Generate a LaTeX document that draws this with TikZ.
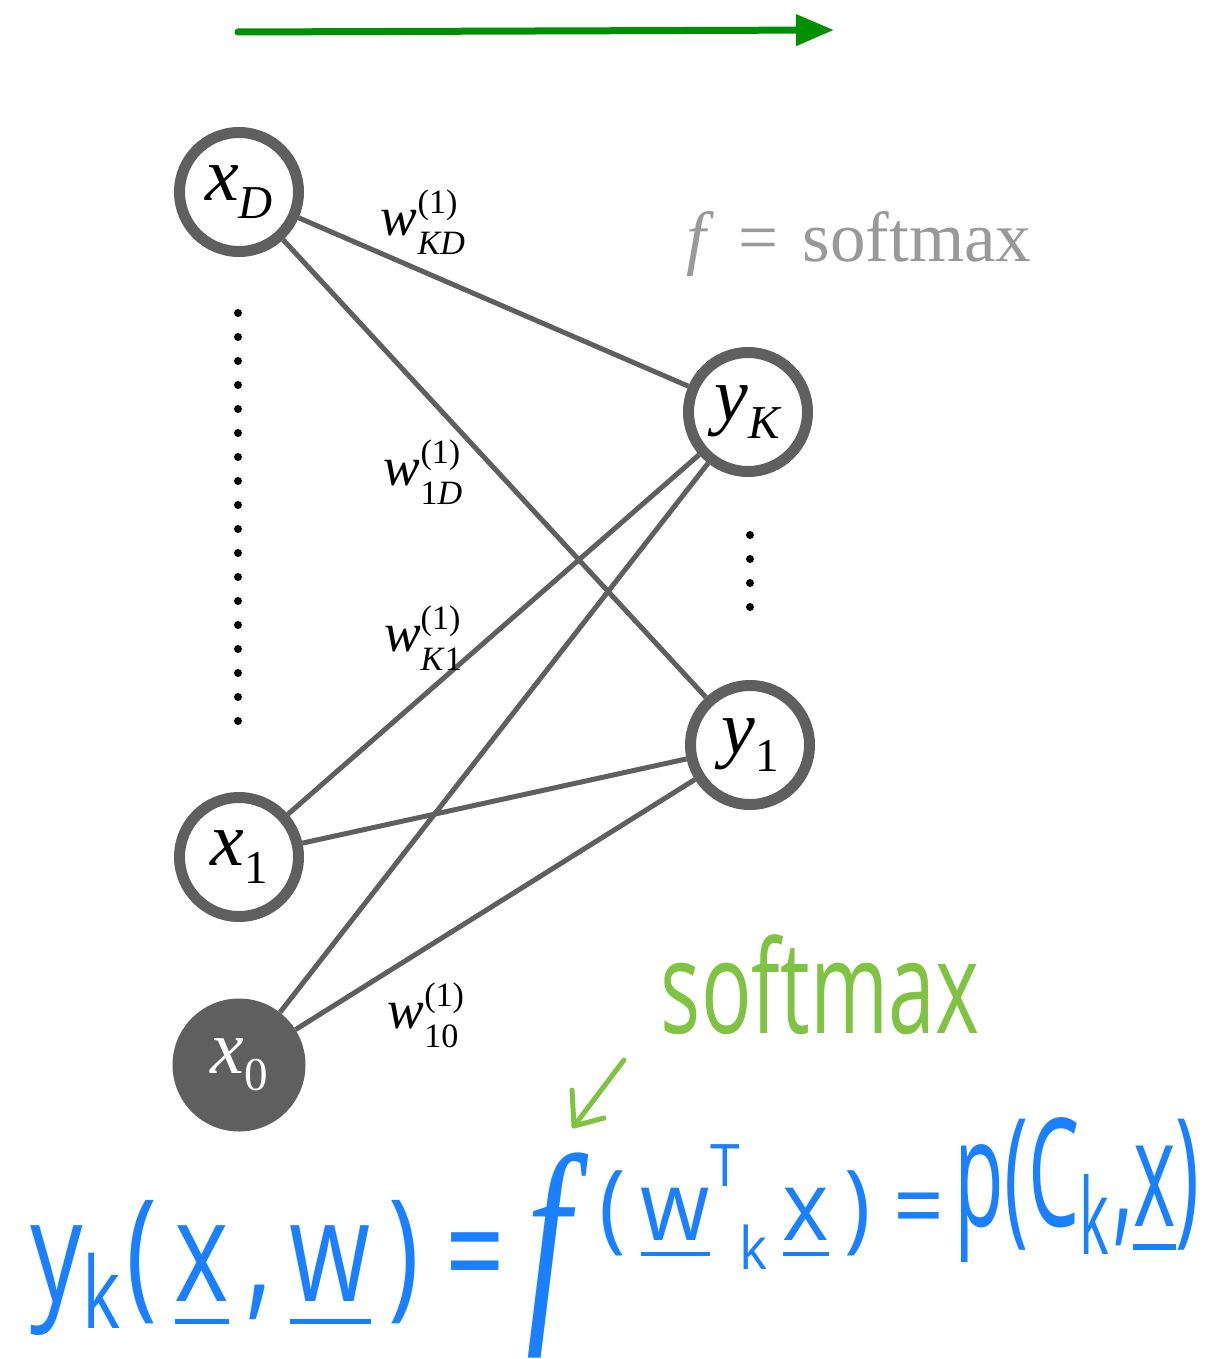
\documentclass[tikz,border=0pt]{standalone}
\usepackage{fontspec}
\setmainfont{Liberation Serif}
\newfontfamily\hwfont{Open Sans}
\newfontfamily\hwital{Liberation Serif Italic}
\usepackage{graphicx}
\usetikzlibrary{arrows.meta}
\definecolor{netgray}{HTML}{5F5F5F}
\definecolor{softgray}{HTML}{999999}
\definecolor{arrowgreen}{HTML}{008F00}
\definecolor{handgreen}{HTML}{80C342}
\definecolor{handblue}{HTML}{1A80FF}
\newcommand{\vsub}[2]{\textit{#1}\raisebox{-0.23em}{\scalebox{0.62}{#2}}}
\newcommand{\wlab}[1]{\textit{w}\rlap{\raisebox{0.4em}{\scalebox{0.62}{(1)}}}\raisebox{-0.35em}{\scalebox{0.62}{#1}}}
\begin{document}
\begin{tikzpicture}[x=1pt,y=-1pt,
  unit/.style={circle, draw=netgray, line width=11pt, fill=white, minimum size=119pt, inner sep=0pt, font=\fontsize{76}{80}\selectfont},
  bias/.style={circle, fill=netgray, minimum size=133pt, inner sep=0pt, text=white, font=\fontsize{76}{80}\selectfont},
  conn/.style={draw=netgray, line width=5pt},
  wlabel/.style={inner sep=0pt, font=\fontsize{55}{60}\selectfont},
  hand/.style={inner sep=0pt, text=handblue},
]
\useasboundingbox (0,0) rectangle (1212,1359);

% flow arrow
\coordinate (fs) at (238,32);
\coordinate (fe) at (834,30);
\draw[arrowgreen, line width=7pt, line cap=round, -{Triangle[length=38pt,width=30pt]}] (fs) -- (fe);

% nodes
\node[unit] (xD) at (239,192) {\vsub{x}{\textit{D}}};
\node[unit] (x1) at (239,857) {\vsub{x}{1}};
\node[bias] (x0) at (239,1065) {\vsub{x}{0}};
\node[unit] (yK) at (748,412) {\vsub{y}{\textit{K}}};
\node[unit] (y1) at (750,745) {\vsub{y}{1}};

% connections
\draw[conn] (xD) -- (yK);
\draw[conn] (xD) -- (y1);
\draw[conn] (x1) -- (yK);
\draw[conn] (x1) -- (y1);
\draw[conn] (x0) -- (yK);
\draw[conn] (x0) -- (y1);

% dots
\foreach \i in {0,...,17} \fill (238,313+24*\i) circle (4);
\foreach \i in {0,...,3} \fill (750,535+24*\i) circle (4);

% weight labels
\node[wlabel] (wKD) at (423,222) {\wlab{\textit{KD}}};
\node[wlabel] (w1D) at (423,472) {\wlab{1\textit{D}}};
\node[wlabel] (wK1) at (423,638) {\wlab{\textit{K}1}};
\node[wlabel] (w10) at (423,1015) {\wlab{10}};

% f = softmax
\node[inner sep=0pt, text=softgray, font=\fontsize{71}{76}\selectfont] (fsm) at (859,244) {\textit{f}\hspace{0.34em}=\hspace{0.34em}softmax};

% handwritten green note
\node[inner sep=0pt, text=handgreen] (sm) at (820,985) {\resizebox*{318pt}{100pt}{\hwfont softmax}};
\coordinate (ha) at (624,1060);
\coordinate (hb) at (574,1126);
\draw[handgreen, line width=5pt, line cap=round, line join=round] (ha) -- (hb);
\draw[handgreen, line width=5pt, line cap=round, line join=round] (572,1090) -- (hb) -- (604,1118);

% handwritten blue equation
\node[hand] (eqL) at (268,1268) {\resizebox*{475pt}{135pt}{\hwfont y\textsubscript{k}(\,\underline{x}\,,\,\underline{w}\,) =}};
\node[hand] (eqF) at (548,1255) {\resizebox*{44pt}{205pt}{\hwital f}};
\node[hand] (eqM) at (772,1207) {\resizebox*{345pt}{125pt}{\hwfont (\,\underline{w}\raisebox{0.55em}{\scalebox{0.6}{T}}\raisebox{-0.3em}{\scalebox{0.6}{k}}\,\underline{x}\,) =}};
\node[hand] (eqR) at (1077,1190) {\resizebox*{245pt}{145pt}{\hwfont p(C\textsubscript{k},\underline{x})}};
\end{tikzpicture}
\end{document}
